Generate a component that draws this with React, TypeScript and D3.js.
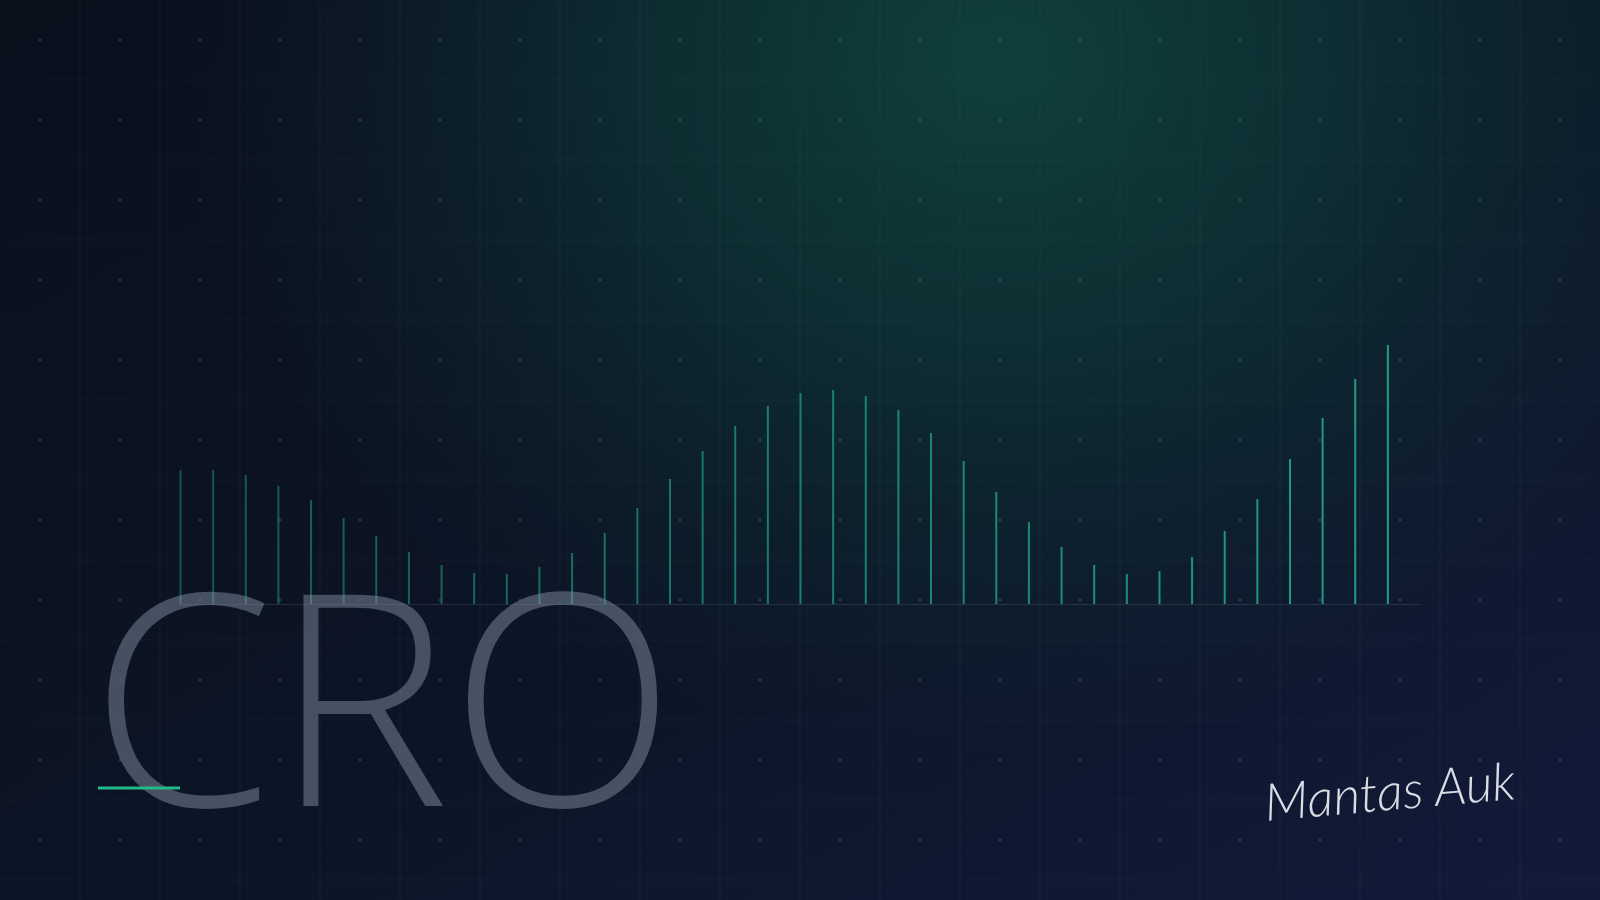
import { useRef, useEffect } from 'react';
import * as d3 from 'd3';

// bar heights (pixels above baseline, arbitrary units)
const values = [
  134, 134, 129, 118, 104, 86, 68, 52, 39, 31,
  30, 37, 51, 71, 96, 125, 153, 178, 198, 211,
  214, 208, 194, 171, 143, 112, 82, 57, 39, 30,
  33, 47, 73, 105, 145, 186, 225, 259,
];
const categories = values.map((_, i) => `p${i + 1}`);
const title = 'CRO';
const signature = 'Mantas Auk';

const W = 1600;
const H = 900;

export default function App() {
  const svgRef = useRef<SVGSVGElement>(null);

  useEffect(() => {
    if (!svgRef.current) return;
    const svg = d3.select(svgRef.current);
    svg.selectAll('*').remove();

    const defs = svg.append('defs');

    const base = defs.append('linearGradient')
      .attr('id', 'bg-base')
      .attr('x1', '0').attr('y1', '0').attr('x2', '1').attr('y2', '1');
    base.append('stop').attr('offset', '0%').attr('stop-color', '#0a0f1c');
    base.append('stop').attr('offset', '55%').attr('stop-color', '#0c1526');
    base.append('stop').attr('offset', '100%').attr('stop-color', '#121a3a');

    const glow = defs.append('radialGradient')
      .attr('id', 'bg-glow')
      .attr('gradientUnits', 'userSpaceOnUse')
      .attr('cx', 1000).attr('cy', 60).attr('r', 820)
      .attr('gradientTransform', 'translate(1000,60) scale(1,0.85) translate(-1000,-60)');
    glow.append('stop').attr('offset', '0%').attr('stop-color', '#0f403c').attr('stop-opacity', 1);
    glow.append('stop').attr('offset', '40%').attr('stop-color', '#0e3737').attr('stop-opacity', 0.75);
    glow.append('stop').attr('offset', '100%').attr('stop-color', '#0e2a33').attr('stop-opacity', 0);

    svg.append('rect').attr('width', W).attr('height', H).attr('fill', 'url(#bg-base)');
    svg.append('rect').attr('width', W).attr('height', H).attr('fill', 'url(#bg-glow)');

    // grid
    const grid = svg.append('g');
    d3.range(80, W, 80).forEach(x => {
      grid.append('line')
        .attr('x1', x).attr('x2', x).attr('y1', 0).attr('y2', H)
        .attr('stroke', '#ffffff').attr('stroke-opacity', 0.045);
    });
    d3.range(80, H, 80).forEach(y => {
      grid.append('line')
        .attr('x1', 0).attr('x2', W).attr('y1', y).attr('y2', y)
        .attr('stroke', '#ffffff').attr('stroke-opacity', 0.045);
    });
    d3.range(40, W, 80).forEach(x => {
      d3.range(40, H, 80).forEach(y => {
        grid.append('circle')
          .attr('cx', x).attr('cy', y).attr('r', 1.3)
          .attr('fill', '#ffffff').attr('fill-opacity', 0.16);
      });
    });

    // chart
    const baseY = 604;
    const xScale = d3.scaleBand<string>()
      .domain(categories)
      .range([180, 1420])
      .padding(0);
    const yScale = d3.scaleLinear()
      .domain([0, d3.max(values) as number])
      .range([baseY, 345]);
    const opacity = d3.scaleLinear()
      .domain([0, values.length - 1])
      .range([0.45, 0.95]);

    const chart = svg.append('g');
    chart.append('line')
      .attr('x1', xScale.range()[0]).attr('x2', xScale.range()[1])
      .attr('y1', baseY + 0.5).attr('y2', baseY + 0.5)
      .attr('stroke', '#ffffff').attr('stroke-opacity', 0.1);

    chart.selectAll('line.bar')
      .data(values)
      .join('line')
      .attr('class', 'bar')
      .attr('x1', (_, i) => (xScale(categories[i]) as number) + 0.5)
      .attr('x2', (_, i) => (xScale(categories[i]) as number) + 0.5)
      .attr('y1', baseY)
      .attr('y2', d => yScale(d))
      .attr('stroke', '#22a585')
      .attr('stroke-width', 2)
      .attr('stroke-opacity', (_, i) => opacity(i));

    // title
    svg.append('text')
      .attr('x', 90).attr('y', 806)
      .attr('font-family', '"Open Sans", "Noto Sans", sans-serif')
      .attr('font-weight', 300)
      .attr('font-size', 296)
      .attr('fill', '#8a95a5')
      .attr('fill-opacity', 0.47)
      .text(title);

    svg.append('line')
      .attr('x1', 98).attr('x2', 180).attr('y1', 788).attr('y2', 788)
      .attr('stroke', '#22b98c').attr('stroke-width', 3);

    // signature
    svg.append('text')
      .attr('x', 1390).attr('y', 810)
      .attr('text-anchor', 'middle')
      .attr('font-family', 'Lato, "Noto Sans", sans-serif')
      .attr('font-style', 'italic')
      .attr('font-weight', 300)
      .attr('font-size', 52)
      .attr('fill', '#d8dde4')
      .attr('transform', 'rotate(-5,1390,795)')
      .text(signature);
  }, []);

  return (
    <div style={{ position: 'fixed', left: 0, top: 0, width: W, height: H }}>
      <svg ref={svgRef} width={W} height={H} style={{ display: 'block' }} />
    </div>
  );
}
